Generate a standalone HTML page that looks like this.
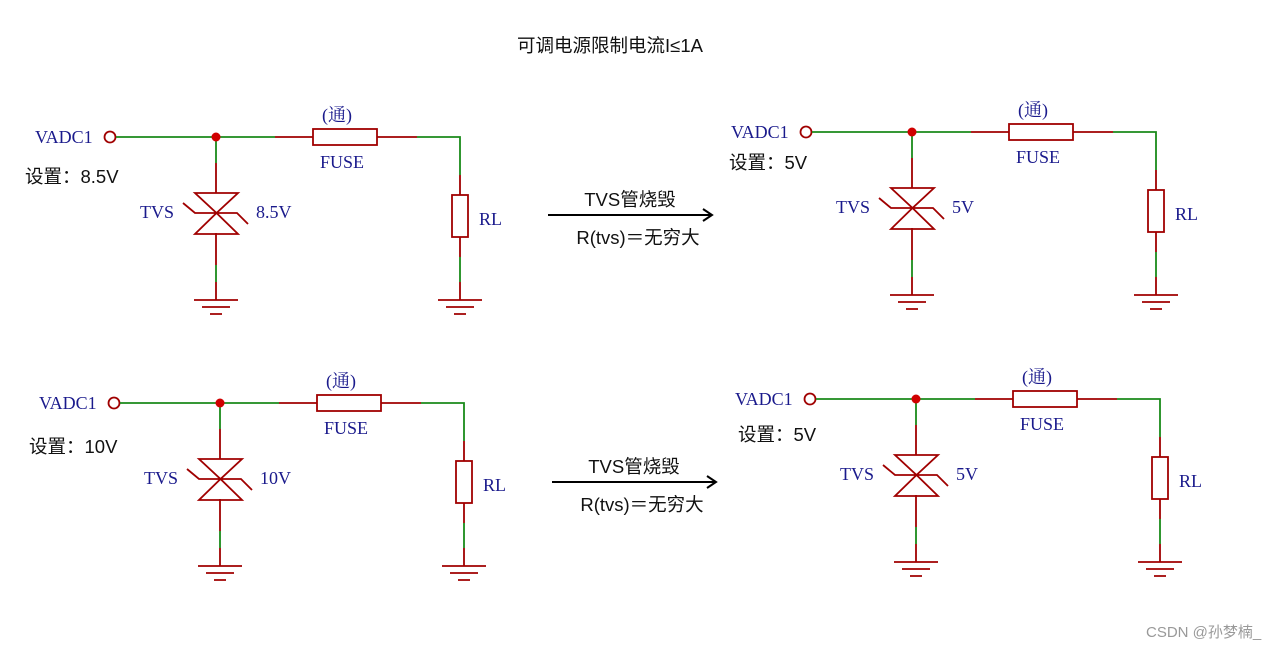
<!DOCTYPE html>
<html><head><meta charset="utf-8"><style>
html,body{margin:0;padding:0;background:#fff;}
svg{display:block;}
.s{font-family:"Liberation Serif","Noto Serif CJK SC",serif;font-size:18px;fill:#1a1a8c;}
.c{font-family:"Liberation Sans","Noto Sans CJK SC",sans-serif;font-size:18.5px;fill:#111;}
</style></head><body>
<svg width="1277" height="648" viewBox="0 0 1277 648" xmlns="http://www.w3.org/2000/svg">
<defs>
<g id="ckt" fill="none" stroke-width="1.8">
  <circle cx="110" cy="137" r="5.5" stroke="#a00000"/>
  <path d="M116 137H275M417 137H460V175M216 137V163M216 265V282M460 257V282" stroke="#1a8a1a"/>
  <path d="M275 137H313M377 137H417M460 175V195M460 237V257M460 282V300M216 163V193M216 233V265M216 282V300" stroke="#a00000"/>
  <rect x="313" y="129" width="64" height="16" stroke="#a00000"/>
  <rect x="452" y="195" width="16" height="42" stroke="#a00000"/>
  <path d="M195 193H238L216.5 213Z M195 234H238L216.5 213Z M183 203L195 213H237L248 224" stroke="#a00000"/>
  <path d="M194 300H238M202 307H230M210 314H222M438 300H482M446 307H474M454 314H466" stroke="#a00000"/>
  <circle cx="216" cy="137" r="4.5" fill="#d00000" stroke="none"/>
</g>
</defs>
<text class="c" x="610" y="52" text-anchor="middle">可调电源限制电流I≤1A</text>

<use href="#ckt"/>
<use href="#ckt" transform="translate(696,-5)"/>
<use href="#ckt" transform="translate(4,266)"/>
<use href="#ckt" transform="translate(700,262)"/>

<g>
<text class="s" x="35" y="143">VADC1</text>
<text class="c" x="25" y="183">设置：8.5V</text>
<text class="s" x="140" y="218">TVS</text>
<text class="s" x="256" y="218">8.5V</text>
<text class="s" x="322" y="121">(通)</text>
<text class="s" x="320" y="168">FUSE</text>
<text class="s" x="479" y="225">RL</text>
</g>
<g transform="translate(696,-5)">
<text class="s" x="35" y="143">VADC1</text>
<text class="c" x="33" y="174">设置：5V</text>
<text class="s" x="140" y="218">TVS</text>
<text class="s" x="256" y="218">5V</text>
<text class="s" x="322" y="121">(通)</text>
<text class="s" x="320" y="168">FUSE</text>
<text class="s" x="479" y="225">RL</text>
</g>
<g transform="translate(4,266)">
<text class="s" x="35" y="143">VADC1</text>
<text class="c" x="25" y="187">设置：10V</text>
<text class="s" x="140" y="218">TVS</text>
<text class="s" x="256" y="218">10V</text>
<text class="s" x="322" y="121">(通)</text>
<text class="s" x="320" y="168">FUSE</text>
<text class="s" x="479" y="225">RL</text>
</g>
<g transform="translate(700,262)">
<text class="s" x="35" y="143">VADC1</text>
<text class="c" x="38" y="179">设置：5V</text>
<text class="s" x="140" y="218">TVS</text>
<text class="s" x="256" y="218">5V</text>
<text class="s" x="322" y="121">(通)</text>
<text class="s" x="320" y="168">FUSE</text>
<text class="s" x="479" y="225">RL</text>
</g>

<g fill="none" stroke="#000" stroke-width="2">
  <path d="M548 215H711M703 209L712 215L703 221"/>
  <path d="M552 482H715M707 476L716 482L707 488"/>
</g>
<text class="c" x="630" y="206" text-anchor="middle">TVS管烧毁</text>
<text class="c" x="638" y="244" text-anchor="middle">R(tvs)＝无穷大</text>
<text class="c" x="634" y="473" text-anchor="middle">TVS管烧毁</text>
<text class="c" x="642" y="511" text-anchor="middle">R(tvs)＝无穷大</text>

<text x="1146" y="637" style="font-family:'Liberation Sans','Noto Sans CJK SC',sans-serif;font-size:15px;fill:#999;">CSDN @孙梦楠_</text>
</svg>
</body></html>
